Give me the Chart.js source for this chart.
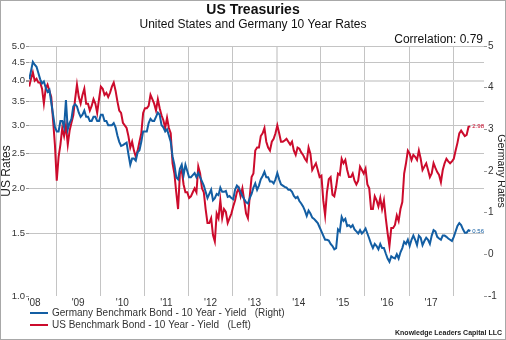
<!DOCTYPE html>
<html>
<head>
<meta charset="utf-8">
<script src="https://cdn.jsdelivr.net/npm/chart.js@4.4.1/dist/chart.umd.min.js"></script>
<style>
  html, body { margin: 0; padding: 0; background: #fff; }
  #wrap { width: 506px; height: 340px; position: relative; }
</style>
</head>
<body>
<div id="wrap"><canvas id="chart" width="506" height="340"></canvas></div>
<script>
// semi-monthly readings, first point mid May 2008
const startYear = 2008.39
const step = 1 / 24

const usYield = [
  // 2008
  3.85, 4.05, 4.22, 4.00, 4.05, 3.95, 3.95, 3.80, 3.45, 3.80, 3.90, 3.75, 3.60, 3.10, 2.65, 2.10,
  // 2009
  2.45, 2.65, 2.95, 2.80, 3.00, 2.65, 2.90, 3.05, 3.20, 3.55, 3.90, 3.60, 3.45, 3.65, 3.80, 3.45, 3.45, 3.30, 3.40, 3.55, 3.45, 3.25, 3.55, 3.85,
  // 2010
  3.80, 3.65, 3.70, 3.60, 3.70, 3.85, 3.95, 3.75, 3.50, 3.30, 3.25, 3.05, 3.00, 2.95, 2.80, 2.60, 2.70, 2.55, 2.45, 2.55, 2.70, 2.85, 3.25, 3.35,
  // 2011
  3.35, 3.40, 3.65, 3.55, 3.45, 3.30, 3.55, 3.35, 3.20, 3.10, 2.95, 3.15, 2.95, 2.85, 2.35, 2.20, 1.95, 1.75, 2.20, 2.25, 2.05, 1.95, 1.95, 1.88,
  // 2012
  1.90, 1.95, 2.00, 1.95, 2.30, 2.20, 2.00, 1.95, 1.75, 1.60, 1.60, 1.65, 1.48, 1.42, 1.70, 1.65, 1.85, 1.65, 1.75, 1.72, 1.60, 1.65, 1.70, 1.78,
  // 2013
  1.85, 1.95, 2.00, 1.90, 2.00, 1.85, 1.70, 1.65, 1.90, 2.15, 2.20, 2.55, 2.60, 2.60, 2.80, 2.85, 2.95, 2.70, 2.60, 2.55, 2.70, 2.75, 2.85, 3.00,
  // 2014
  2.85, 2.70, 2.70, 2.72, 2.75, 2.70, 2.65, 2.70, 2.55, 2.48, 2.60, 2.58, 2.52, 2.48, 2.42, 2.38, 2.60, 2.50, 2.25, 2.30, 2.35, 2.25, 2.15, 2.17,
  // 2015
  1.85, 1.68, 1.95, 2.12, 2.15, 1.92, 1.90, 2.02, 2.20, 2.18, 2.42, 2.35, 2.40, 2.25, 2.15, 2.15, 2.20, 2.10, 2.05, 2.10, 2.30, 2.25, 2.20, 2.27,
  // 2016
  2.05, 2.00, 1.75, 1.75, 1.90, 1.85, 1.78, 1.88, 1.75, 1.85, 1.65, 1.50, 1.38, 1.55, 1.55, 1.58, 1.68, 1.62, 1.75, 1.83, 2.20, 2.35, 2.55, 2.50,
  // 2017
  2.40, 2.48, 2.45, 2.40, 2.55, 2.42, 2.25, 2.30, 2.35, 2.25, 2.15, 2.20, 2.35, 2.28, 2.22, 2.18, 2.08, 2.25, 2.35, 2.42, 2.38, 2.35, 2.38, 2.42,
  // 2018
  2.55, 2.68, 2.85, 2.90, 2.85, 2.80, 2.82, 2.97, 2.98
]

const deYield = [
  // 2008
  4.20, 4.40, 4.62, 4.55, 4.50, 4.35, 4.20, 4.10, 4.15, 4.00, 3.90, 3.95, 3.65, 3.35, 3.05, 2.95,
  // 2009
  2.95, 3.20, 3.20, 3.05, 3.70, 3.00, 3.15, 3.25, 3.55, 3.60, 3.55, 3.40, 3.30, 3.35, 3.45, 3.30, 3.30, 3.20, 3.20, 3.30, 3.30, 3.20, 3.20, 3.35,
  // 2010
  3.35, 3.20, 3.20, 3.10, 3.10, 3.10, 3.15, 3.05, 2.85, 2.70, 2.60, 2.62, 2.65, 2.68, 2.40, 2.15, 2.30, 2.30, 2.25, 2.45, 2.50, 2.70, 2.95, 2.95,
  // 2011
  2.95, 3.15, 3.25, 3.20, 3.20, 3.30, 3.40, 3.35, 3.10, 3.05, 2.95, 3.00, 2.85, 2.70, 2.35, 2.15, 1.85, 1.80, 2.05, 2.15, 1.90, 2.15, 2.00, 1.85,
  // 2012
  1.85, 1.90, 1.95, 1.85, 1.95, 1.85, 1.75, 1.65, 1.50, 1.35, 1.45, 1.55, 1.30, 1.35, 1.45, 1.42, 1.60, 1.50, 1.50, 1.52, 1.38, 1.40, 1.35, 1.32,
  // 2013
  1.55, 1.65, 1.60, 1.50, 1.40, 1.32, 1.25, 1.22, 1.35, 1.45, 1.60, 1.70, 1.55, 1.65, 1.80, 1.88, 1.98, 1.85, 1.85, 1.75, 1.75, 1.70, 1.80, 1.95,
  // 2014
  1.80, 1.68, 1.65, 1.62, 1.60, 1.55, 1.55, 1.50, 1.40, 1.35, 1.38, 1.28, 1.22, 1.15, 1.05, 0.92, 1.05, 0.98, 0.88, 0.85, 0.80, 0.75, 0.65, 0.55,
  // 2015
  0.45, 0.35, 0.35, 0.33, 0.25, 0.20, 0.12, 0.15, 0.60, 0.55, 0.90, 0.80, 0.85, 0.68, 0.70, 0.65, 0.70, 0.60, 0.55, 0.50, 0.58, 0.50, 0.55, 0.62,
  // 2016
  0.50, 0.38, 0.25, 0.15, 0.25, 0.20, 0.12, 0.25, 0.15, 0.15, 0.02, -0.10, -0.18, -0.05, -0.08, -0.10, 0.00, -0.10, 0.05, 0.15, 0.30, 0.25, 0.35, 0.20,
  // 2017
  0.35, 0.45, 0.35, 0.22, 0.45, 0.40, 0.22, 0.32, 0.40, 0.35, 0.25, 0.45, 0.58, 0.55, 0.42, 0.38, 0.35, 0.45, 0.45, 0.42, 0.38, 0.35, 0.32, 0.42,
  // 2018
  0.55, 0.68, 0.75, 0.70, 0.60, 0.52, 0.52, 0.58, 0.56
]

const yearLines = [2009, 2010, 2011, 2012, 2013, 2014, 2015, 2016, 2017, 2018]
const yearLabels = ["'08", "'09", "'10", "'11", "'12", "'13", "'14", "'15", "'16", "'17"]
const usTicks = [1.0, 1.5, 2.0, 2.5, 3.0, 3.5, 4.0, 4.5, 5.0]
const deTicks = [-1, 0, 1, 2, 3, 4, 5]

const BLUE = '#135ea3'
const RED = '#cc0b2c'
const FONT = "'Liberation Sans', Arial, sans-serif"
const X_MIN = 2008.386
const X_MAX = 2018.7

const toPoints = (arr) => arr.map((v, i) => ({ x: startYear + i * step, y: v }))

const chrome = {
  id: 'chrome',
  afterDraw(chart) {
    const ctx = chart.ctx
    const { x, y, y1 } = chart.scales
    ctx.save()
    ctx.strokeStyle = '#a8a8a8'
    ctx.lineWidth = 1
    ctx.strokeRect(0.5, 0.5, 505, 339)

    ctx.fillStyle = '#111'
    ctx.textAlign = 'center'
    ctx.textBaseline = 'middle'
    ctx.font = 'bold 14px ' + FONT
    ctx.fillText('US Treasuries', 253, 10)
    ctx.font = '12px ' + FONT
    ctx.fillText('United States and Germany 10 Year Rates', 253, 25)
    ctx.textAlign = 'right'
    ctx.fillText('Correlation: 0.79', 483, 40)

    // last value tags
    ctx.textAlign = 'left'
    ctx.font = '6px ' + FONT
    const lastX = x.getPixelForValue(startYear + (usYield.length - 1) * step) + 2
    ctx.fillStyle = RED
    ctx.fillText(usYield[usYield.length - 1].toFixed(2), lastX, y.getPixelForValue(usYield[usYield.length - 1]))
    ctx.fillStyle = BLUE
    ctx.fillText(deYield[deYield.length - 1].toFixed(2), lastX, y1.getPixelForValue(deYield[deYield.length - 1]))

    // legend
    const items = [
      { color: BLUE, text: 'Germany Benchmark Bond - 10 Year - Yield   (Right)' },
      { color: RED, text: 'US Benchmark Bond - 10 Year - Yield   (Left)' }
    ]
    ctx.font = '10px ' + FONT
    items.forEach((it, i) => {
      const ly = 313 + i * 12
      ctx.strokeStyle = it.color
      ctx.lineWidth = 2
      ctx.beginPath()
      ctx.moveTo(30, ly)
      ctx.lineTo(48, ly)
      ctx.stroke()
      ctx.fillStyle = '#333'
      ctx.fillText(it.text, 52, ly)
    })

    ctx.textAlign = 'right'
    ctx.font = 'bold 7px ' + FONT
    ctx.fillStyle = '#222'
    ctx.fillText('Knowledge Leaders Capital LLC', 502, 333)
    ctx.restore()
  }
}

new Chart(document.getElementById('chart'), {
  type: 'line',
  data: {
    datasets: [
      {
        label: 'Germany Benchmark Bond - 10 Year - Yield (Right)',
        data: toPoints(deYield),
        yAxisID: 'y1',
        borderColor: BLUE,
        borderWidth: 2,
        pointRadius: 0,
        tension: 0
      },
      {
        label: 'US Benchmark Bond - 10 Year - Yield (Left)',
        data: toPoints(usYield),
        yAxisID: 'y',
        borderColor: RED,
        borderWidth: 2,
        pointRadius: 0,
        tension: 0
      }
    ]
  },
  options: {
    responsive: false,
    animation: false,
    layout: { padding: { top: 46, left: 0, right: 0, bottom: 30 } },
    plugins: { legend: { display: false }, tooltip: { enabled: false } },
    scales: {
      x: {
        type: 'linear',
        min: X_MIN,
        max: X_MAX,
        afterBuildTicks: (s) => { s.ticks = yearLines.map(v => ({ value: v })) },
        grid: {
          color: (c) => c.tick && c.tick.value === 2014 ? '#dcdcdc' : '#c4c4c4',
          lineWidth: (c) => c.tick && c.tick.value === 2014 ? 2 : 1,
          drawTicks: false
        },
        border: { display: false },
        ticks: { display: false },
        afterFit: (s) => { s.height = 0 }
      },
      x2: {
        type: 'linear',
        position: 'bottom',
        min: X_MIN,
        max: X_MAX,
        afterBuildTicks: (s) => { s.ticks = yearLabels.map((l, i) => ({ value: 2008.5 + i })) },
        grid: { display: false, drawTicks: false },
        border: { display: false },
        ticks: {
          autoSkip: false,
          maxRotation: 0,
          padding: 1,
          color: '#333',
          font: { family: FONT, size: 10 },
          callback: (v, i) => yearLabels[i]
        },
        afterFit: (s) => { s.height = 14 }
      },
      y: {
        type: 'logarithmic',
        position: 'left',
        min: 1,
        max: 5,
        afterBuildTicks: (s) => { s.ticks = usTicks.map(v => ({ value: v })) },
        grid: {
          color: (c) => {
            if (!c.tick) return '#c4c4c4'
            if (c.tick.value === 1) return 'rgba(0,0,0,0)'
            if (c.tick.value === 4) return '#dcdcdc'
            return '#c4c4c4'
          },
          lineWidth: (c) => c.tick && c.tick.value === 4 ? 2 : 1,
          tickColor: '#999',
          tickLength: 3
        },
        border: { display: false },
        ticks: {
          padding: 1,
          color: '#333',
          font: { family: FONT, size: 9.5 },
          callback: (v) => Number(v).toFixed(1)
        },
        title: {
          display: true,
          text: 'US Rates',
          color: '#222',
          font: { family: FONT, size: 12, lineHeight: 1 },
          padding: { top: 1, bottom: 0 }
        },
        afterFit: (s) => { s.width = 29 }
      },
      y1: {
        type: 'linear',
        position: 'right',
        min: -1,
        max: 5,
        afterBuildTicks: (s) => { s.ticks = deTicks.map(v => ({ value: v })) },
        grid: { drawOnChartArea: false, tickColor: '#999', tickLength: 3 },
        border: { display: false },
        ticks: {
          padding: 1,
          color: '#333',
          font: { family: FONT, size: 10 },
          callback: (v) => String(v)
        },
        title: {
          display: true,
          text: 'Germany Rates',
          color: '#222',
          font: { family: FONT, size: 10.5, lineHeight: 1 },
          padding: { top: 0, bottom: 2 }
        },
        afterFit: (s) => { s.width = 22 }
      }
    }
  },
  plugins: [chrome]
})
</script>
</body>
</html>
